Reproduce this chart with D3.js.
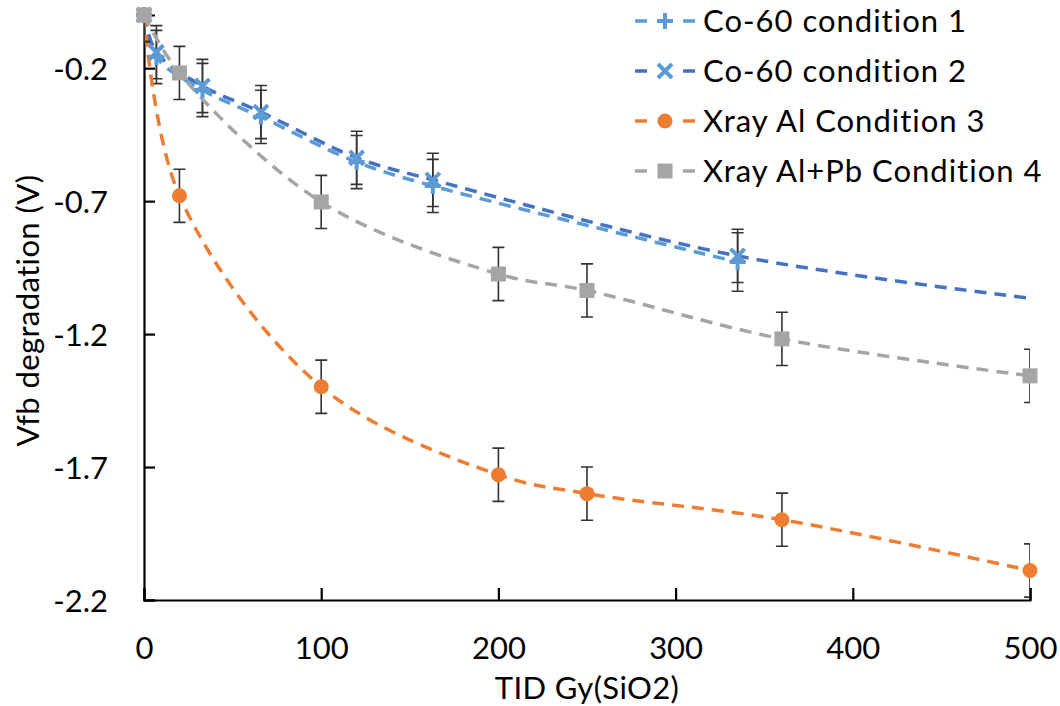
<!DOCTYPE html>
<meta charset="utf-8">
<style>
    body { margin: 0; background: #fff; }
    text { font-family: Lato, "Open Sans", sans-serif; fill: #000; }
    .tick-label { font-size: 31px; }
    .axis-title { font-size: 31px; letter-spacing: 0.4px; }
    .legend-label { font-size: 31px; letter-spacing: 1px; }
    .errbar { stroke: #333; stroke-width: 1.6; fill: none; }
    .axis-line { stroke: #000; stroke-width: 2.2; fill: none; }
</style>
<body>
<script src="https://d3js.org/d3.v7.min.js"></script>
<script>
    // ---- data ----
    var coX = [0, 7, 33, 66, 120, 163, 335];
    var cond1Y = [0, -0.158, -0.282, -0.383, -0.553, -0.643, -0.929];
    var cond1Err = [0.1, 0.1, 0.1, 0.1, 0.1, 0.1, 0.11];

    // condition 2 carries on to 500 without a marker
    var cond2X = [0, 7, 33, 66, 120, 163, 335, 500];
    var cond2Y = [0, -0.14, -0.267, -0.365, -0.537, -0.62, -0.906, -1.065];
    var cond2Err = [0.1, 0.1, 0.1, 0.1, 0.1, 0.1, 0.1, null];

    var xrayX = [0, 20, 100, 200, 250, 360, 500];
    var cond3Y = [0, -0.68, -1.398, -1.729, -1.80, -1.898, -2.089];
    var cond3Err = [0.1, 0.1, 0.1, 0.1, 0.1, 0.1, 0.1];
    var cond4Y = [0, -0.218, -0.703, -0.974, -1.036, -1.218, -1.357];
    var cond4Err = [0.1, 0.1, 0.1, 0.1, 0.1, 0.1, 0.1];

    var xTicks = [0, 100, 200, 300, 400, 500];
    var yTicks = [-2.2, -1.7, -1.2, -0.7, -0.2];
    var seriesNames = ["Co-60 condition 1", "Co-60 condition 2", "Xray Al Condition 3", "Xray Al+Pb Condition 4"];

    function zip(xs, ys, es) {
        return xs.map(function (x, i) { return {x: x, y: ys[i], e: es[i]}; });
    }

    var series = [
        {name: seriesNames[0], pts: zip(coX, cond1Y, cond1Err), line: "#5B9BD5", mark: "#5B9BD5", shape: "plus"},
        {name: seriesNames[1], pts: zip(cond2X, cond2Y, cond2Err), line: "#4472C4", mark: "#5B9BD5", shape: "cross"},
        {name: seriesNames[2], pts: zip(xrayX, cond3Y, cond3Err), line: "#ED7D31", mark: "#ED7D31", shape: "circle"},
        {name: seriesNames[3], pts: zip(xrayX, cond4Y, cond4Err), line: "#A5A5A5", mark: "#A5A5A5", shape: "square"}
    ];

    var width = 1060, height = 706;
    var plot = {left: 144, right: 1030, top: 15, bottom: 600};

    var svg = d3.select("body").append("svg")
        .attr("width", width)
        .attr("height", height);

    var x = d3.scaleLinear().domain([0, 500]).range([plot.left, plot.right]);
    var y = d3.scaleLinear().domain([-2.2, 0]).range([plot.bottom, plot.top]);

    svg.append("clipPath").attr("id", "plotclip")
        .append("rect")
        .attr("x", plot.left).attr("y", plot.top)
        .attr("width", plot.right - plot.left)
        .attr("height", plot.bottom - plot.top);

    // Axes (ticks pointing inward like the original), hyphen minus like Excel
    var fmt1 = function (d) { return d3.format(".1f")(d).replace("\u2212", "-"); };
    var xAxis = d3.axisBottom(x).tickValues(xTicks).tickSize(-12).tickPadding(37).tickFormat(d3.format("d"));
    var yAxis = d3.axisLeft(y).tickValues(yTicks).tickSize(-11).tickPadding(36).tickFormat(fmt1);

    var gx = svg.append("g").attr("transform", "translate(0," + plot.bottom + ")").call(xAxis);
    var gy = svg.append("g").attr("transform", "translate(" + plot.left + ",0)").call(yAxis);
    [gx, gy].forEach(function (g) {
        g.select(".domain").attr("class", "axis-line");
        g.selectAll(".tick line").attr("stroke", "#000").attr("stroke-width", 2.2);
        g.selectAll(".tick text").attr("class", "tick-label").attr("fill", "#000");
    });
    gy.selectAll(".tick text").attr("dy", "0.36em");

    // axis titles
    svg.append("text").attr("class", "axis-title")
        .attr("x", (plot.left + plot.right) / 2).attr("y", 699)
        .attr("text-anchor", "middle")
        .text("TID Gy(SiO2)");
    svg.append("text").attr("class", "axis-title")
        .attr("transform", "translate(39," + ((plot.top + plot.bottom) / 2 + 3) + ") rotate(-90)")
        .attr("text-anchor", "middle")
        .text("Vfb degradation (V)");

    var line = d3.line()
        .x(function (d) { return x(d.x); })
        .y(function (d) { return y(d.y); })
        .curve(d3.curveCatmullRom.alpha(0.5));

    var clipped = svg.append("g").attr("clip-path", "url(#plotclip)");
    var markLayer = svg.append("g");

    function drawMarker(g, shape, color, cx, cy) {
        if (shape === "circle") {
            g.append("circle").attr("cx", cx).attr("cy", cy).attr("r", 7.5).attr("fill", color);
        } else if (shape === "square") {
            g.append("rect").attr("x", cx - 7.5).attr("y", cy - 7.5).attr("width", 15).attr("height", 15).attr("fill", color);
        } else if (shape === "plus") {
            g.append("path").attr("d", "M" + (cx - 8) + "," + cy + "H" + (cx + 8) + "M" + cx + "," + (cy - 8) + "V" + (cy + 8))
                .attr("stroke", color).attr("stroke-width", 4);
        } else if (shape === "cross") {
            g.append("path").attr("d", "M" + (cx - 7) + "," + (cy - 7) + "L" + (cx + 7) + "," + (cy + 7) +
                "M" + (cx - 7) + "," + (cy + 7) + "L" + (cx + 7) + "," + (cy - 7))
                .attr("stroke", color).attr("stroke-width", 4);
        }
    }

    series.forEach(function (s) {
        clipped.append("path")
            .datum(s.pts)
            .attr("d", line)
            .attr("fill", "none")
            .attr("stroke", s.line)
            .attr("stroke-width", 3.5)
            .attr("stroke-dasharray", "12,8");

        var withErr = s.pts.filter(function (d) { return d.e !== null; });
        var eb = clipped.append("g").attr("class", "errbar");
        withErr.forEach(function (d) {
            var cx = x(d.x), y0 = y(d.y + d.e), y1 = y(d.y - d.e);
            eb.append("path").attr("d",
                "M" + cx + "," + y0 + "V" + y1 +
                "M" + (cx - 6) + "," + y0 + "H" + (cx + 6) +
                "M" + (cx - 6) + "," + y1 + "H" + (cx + 6));
        });
    });

    series.forEach(function (s) {
        var g = markLayer.append("g");
        s.pts.filter(function (d) { return d.e !== null; }).forEach(function (d) {
            drawMarker(g, s.shape, s.mark, x(d.x), y(d.y));
        });
    });

    // Legend
    var legend = svg.append("g");
    series.forEach(function (s, i) {
        var cy = 21 + i * 50;
        legend.append("line")
            .attr("x1", 635).attr("x2", 695).attr("y1", cy).attr("y2", cy)
            .attr("stroke", s.line).attr("stroke-width", 3.5)
            .attr("stroke-dasharray", "12,36");
        drawMarker(legend, s.shape, s.mark, 665, cy);
        legend.append("text").attr("class", "legend-label")
            .attr("x", 703).attr("y", cy).attr("dy", "0.35em")
            .text(s.name);
    });
</script>
</body>
